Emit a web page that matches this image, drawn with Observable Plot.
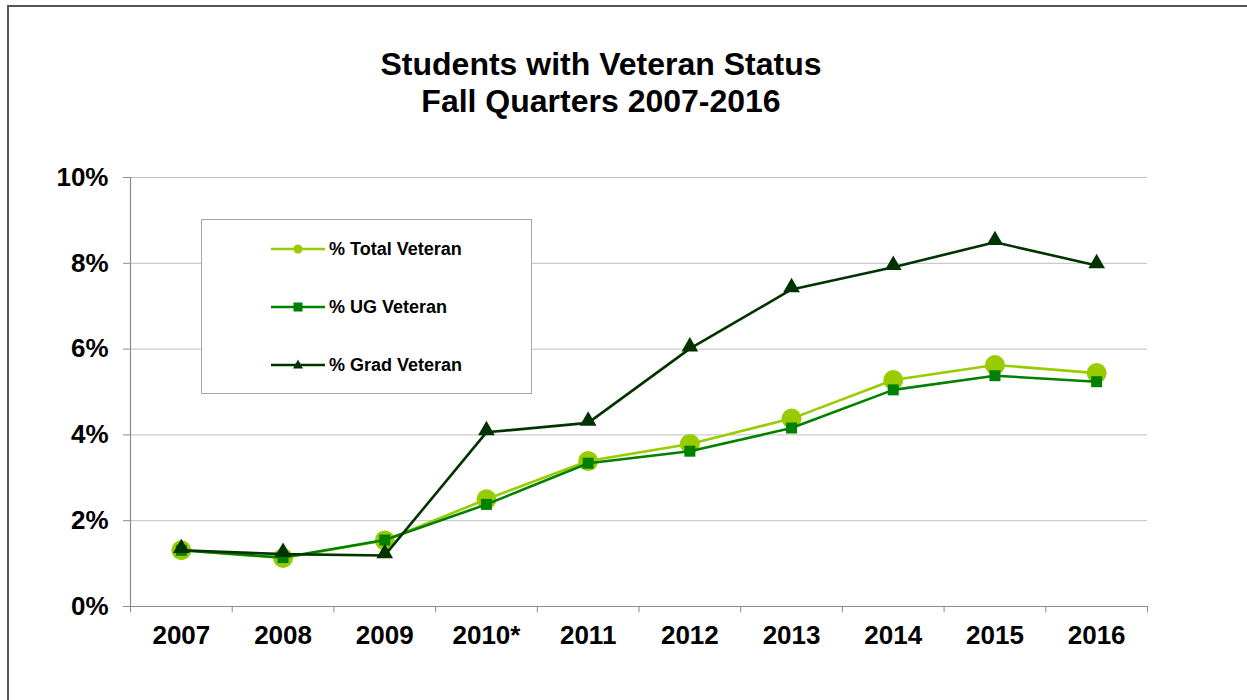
<!DOCTYPE html>
<html>
<head>
<meta charset="utf-8">
<script src="https://cdn.jsdelivr.net/npm/d3@7"></script>
<script src="https://cdn.jsdelivr.net/npm/@observablehq/plot@0.6"></script>
<style>
  html, body { margin: 0; padding: 0; background: #fff; }
  #wrap { position: relative; width: 1247px; height: 700px; overflow: hidden; font-family: "Liberation Sans", Arial, sans-serif; }
  #frame { position: absolute; left: 7px; top: 5px; width: 1400px; height: 800px; border-left: 2px solid #555; border-top: 2px solid #555; pointer-events: none; }
  #title { height: 140px; box-sizing: border-box; padding-top: 46px; padding-left: 0; width: 1202px; text-align: center; font-weight: bold; font-size: 32px; line-height: 37px; color: #000; }
  #legend { position: absolute; left: 201px; top: 219px; width: 331px; height: 175px; box-sizing: border-box; border: 1px solid #a6a6a6; background: #fff; }
  .row { position: absolute; left: 69px; height: 20px; display: flex; align-items: center; font-weight: bold; font-size: 18px; color: #000; }
  .row svg { margin-right: 4px; }
</style>
</head>
<body>
<div id="wrap">
  <div id="title">Students with Veteran Status<br>Fall Quarters 2007-2016</div>
  <div id="chart"></div>
  <div id="legend"></div>
  <div id="frame"></div>
</div>
<script>
const years = ["2007","2008","2009","2010*","2011","2012","2013","2014","2015","2016"];
const totalVeteran = [1.31,1.13,1.54,2.50,3.39,3.79,4.38,5.28,5.63,5.44];
const ugVeteran    = [1.31,1.14,1.55,2.38,3.34,3.62,4.16,5.05,5.38,5.24];
const gradVeteran  = [1.31,1.22,1.19,4.06,4.28,6.01,7.39,7.91,8.49,7.95];
const yTicks = [0,2,4,6,8,10];

const seriesNames = ["% Total Veteran","% UG Veteran","% Grad Veteran"];
const seriesValues = [totalVeteran, ugVeteran, gradVeteran];
const colors = ["#99cc00","#008000","#003300"];
const symbols = ["circle","square","triangle"];
const radii = [10, 6.2, 6.2];

const rows = seriesNames.map((name, s) => years.map((year, i) => ({series: name, year, value: seriesValues[s][i]})));

const W = 1247, H = 560;
const mL = 130, mR = 100, mT = 37, mB = 94;
const step = (W - mL - mR) / years.length;

const marks = [
  Plot.ruleY(yTicks.filter(d => d > 0), {stroke: "#bfbfbf", strokeWidth: 1}),
  Plot.ruleY([0], {stroke: "#8c8c8c", strokeWidth: 1.2}),
  Plot.ruleX([years[0]], {dx: -step/2, y1: 0, y2: 10, stroke: "#8c8c8c", strokeWidth: 1.2}),
  Plot.ruleX(years, {dx: -step/2, y1: 0, y2: -0.15, stroke: "#8c8c8c"}),
  Plot.ruleX([years[years.length-1]], {dx: step/2, y1: 0, y2: -0.15, stroke: "#8c8c8c"}),
  Plot.axisY({ticks: yTicks, tickFormat: d => d + "%", tickSize: 7, tickPadding: 15, stroke: "#8c8c8c", fill: "#000", fontSize: 26, fontWeight: "bold"}),
  Plot.axisX({tickSize: 0, tickPadding: 19, fill: "#000", fontSize: 26, fontWeight: "bold"})
];
rows.forEach((data, s) => {
  marks.push(Plot.line(data, {x: "year", y: "value", stroke: colors[s], strokeWidth: 2.6}));
  marks.push(Plot.dot(data, {x: "year", y: "value", symbol: symbols[s], r: radii[s], fill: colors[s], stroke: "none", dy: s === 2 ? -2 : 0}));
});

const chart = Plot.plot({
  width: W, height: H,
  marginLeft: mL, marginRight: mR, marginTop: mT, marginBottom: mB,
  style: {fontFamily: "'Liberation Sans', Arial, sans-serif", fontWeight: "bold", background: "transparent", overflow: "visible"},
  x: {type: "point", domain: years, padding: 0.5, round: false, label: null},
  y: {domain: [0, 10], label: null},
  marks
});
document.getElementById("chart").appendChild(chart);

// legend
const legend = document.getElementById("legend");
const rowTops = [19, 77, 135];
seriesNames.forEach((name, s) => {
  const row = document.createElement("div");
  row.className = "row";
  row.style.top = rowTops[s] + "px";
  const sym = symbols[s] === "circle" ? `<circle cx="27" cy="10" r="4.5" fill="${colors[s]}"/>`
    : symbols[s] === "square" ? `<rect x="22.5" y="5.5" width="9" height="9" fill="${colors[s]}"/>`
    : `<path d="M27,4.5 L32,13.5 L22,13.5 Z" fill="${colors[s]}"/>`;
  row.innerHTML = `<svg width="54" height="20"><line x1="0" x2="54" y1="10" y2="10" stroke="${colors[s]}" stroke-width="2.6"/>${sym}</svg><span>${name}</span>`;
  legend.appendChild(row);
});
</script>
</body>
</html>
